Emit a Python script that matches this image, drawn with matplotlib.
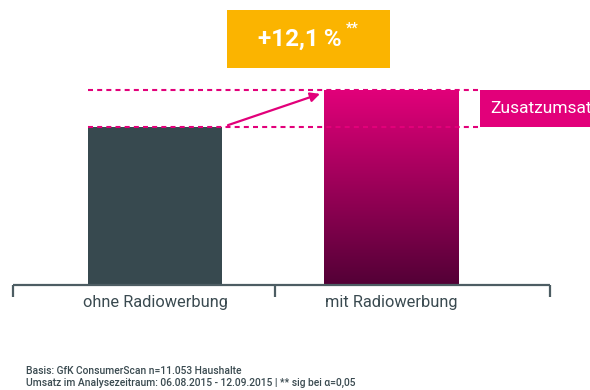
import numpy as np
import matplotlib
matplotlib.use("Agg")
import matplotlib.pyplot as plt
from matplotlib.patches import Rectangle
from matplotlib.colors import LinearSegmentedColormap

# Data
categories = ["ohne Radiowerbung", "mit Radiowerbung"]
umsatz_index = [100.0, 112.1]
uplift_label = "+12,1\u2009%"
footnotes = [
    "Basis: GfK ConsumerScan n=11.053 Haushalte",
    "Umsatz im Analysezeitraum: 06.08.2015 - 12.09.2015 | ** sig bei \u03b1=0,05",
]

PINK = "#e2007a"
DARK = "#37494f"
ORANGE = "#fbb400"
MAROON = "#530036"
AXIS = "#4d5d63"
TEXT = "#3a4a50"

plt.rcParams["font.family"] = ["Roboto", "DejaVu Sans"]

W, H = 590, 390
fig = plt.figure(figsize=(W / 100, H / 100), dpi=100)
ax = fig.add_axes([0, 0, 1, 1])
ax.set_axis_off()

base = 49.0
XLIM = (-0.657, 1.843)
YLIM = (base - 105 / 3.098, 100 + 127 / 3.098)

x = np.arange(len(categories))
bw = 0.57
bars = ax.bar(x, [v - base for v in umsatz_index], bottom=base, width=bw,
              color=[DARK, "none"], linewidth=0, zorder=2)

# gradient fill for the second bar
grad = LinearSegmentedColormap.from_list("g", [MAROON, PINK])
b = bars[1]
img = ax.imshow(np.linspace(0, 1, 256).reshape(-1, 1), cmap=grad, aspect="auto",
                origin="lower",
                extent=(b.get_x(), b.get_x() + b.get_width(), base, umsatz_index[1]),
                zorder=2)
img.set_clip_path(b)
ax.set_xlim(*XLIM)
ax.set_ylim(*YLIM)

# baseline with bracket ticks
x_left, x_mid, x_right = -0.602, 0.508, 1.674
tick_len = 3.9
ax.plot([x_left, x_right], [base, base], color=AXIS, lw=1.6, zorder=3,
        solid_capstyle="butt")
for xt in (x_left, x_mid, x_right):
    ax.plot([xt, xt], [base, base - tick_len], color=AXIS, lw=1.6, zorder=3,
            solid_capstyle="butt")

for xi, lab in zip(x, categories):
    ax.text(xi, base - 5.8, lab, ha="center", va="center", fontsize=11.8,
            color=TEXT)

# dashed reference lines
x_end = 1.377
for v in umsatz_index:
    ax.plot([-bw / 2, x_end], [v, v], color=PINK, lw=1.5, dashes=(2.4, 2.0),
            zorder=4)

# label box at the right edge
ax.add_patch(Rectangle((x_end, umsatz_index[0] + 0.1), 1.0,
                       umsatz_index[1] - umsatz_index[0] - 0.1,
                       color=PINK, zorder=3, linewidth=0))
ax.text(1.42, (umsatz_index[0] + umsatz_index[1]) / 2, "Zusatzumsatz",
        ha="left", va="center", fontsize=12.5, color="white", zorder=5)

# arrow between the levels
ax.annotate("", xy=(0.699, 110.7), xytext=(0.309, 100.6),
            arrowprops=dict(arrowstyle="-|>", color=PINK, lw=1.6,
                            mutation_scale=14, shrinkA=0, shrinkB=0),
            zorder=5)

# headline box
def fx(px):
    return px / W

def fy(py):
    return 1 - py / H

fig.patches.append(Rectangle((fx(227), fy(67.5)), (390 - 227) / W, 57.5 / H,
                             transform=fig.transFigure, color=ORANGE,
                             linewidth=0))
fig.text(fx(300), fy(39), uplift_label, ha="center", va="center",
         fontsize=17.5, fontweight="bold", color="white")
fig.text(fx(352), fy(29), "**", ha="center", va="center",
         fontsize=10, fontweight="bold", color="white")

for i, line in enumerate(footnotes):
    fig.text(fx(26), fy(371 + 11.5 * i), line, ha="left", va="center",
             fontsize=7.4, fontweight="medium", color=TEXT)

fig.savefig("out.png", dpi=100)
